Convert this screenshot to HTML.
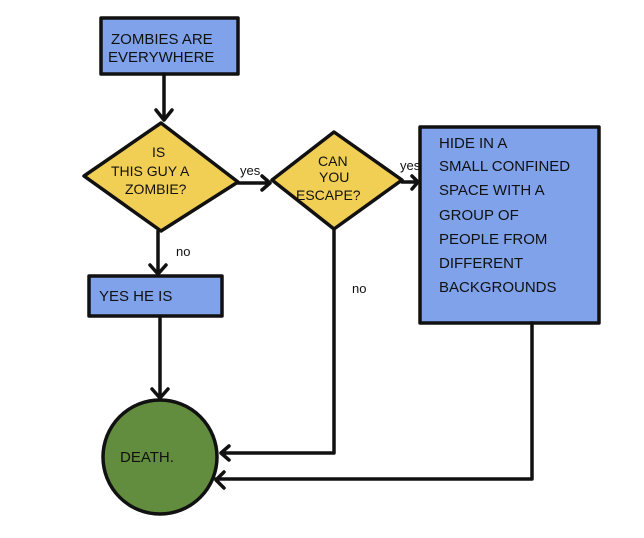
<!DOCTYPE html>
<html><head><style>
body{margin:0;background:#fff;}
svg text{font-family:"Liberation Sans",sans-serif;fill:#111;}
</style></head><body>
<svg width="644" height="533" viewBox="0 0 644 533" xmlns="http://www.w3.org/2000/svg">
<g stroke="#111" stroke-width="3.5" fill="none" stroke-linejoin="round" stroke-linecap="round">
<rect x="101" y="18" width="137" height="56" fill="#7fa2ea"/>
<polygon points="161,123 238,182 161,231 84,176" fill="#f1cf55"/>
<polygon points="334,132 402,180 334,229 272,180" fill="#f1cf55"/>
<rect x="420" y="127" width="179" height="196" fill="#7fa2ea"/>
<rect x="89" y="276" width="133" height="40" fill="#7fa2ea"/>
<circle cx="160" cy="457" r="57" fill="#628c3e"/>
<path d="M164 74 V120 M156 110 L164 120 L172 110"/>
<path d="M238 183 H270 M262 176 L270 183 L262 190"/>
<path d="M402 182 H418 M412 176 L418 182 L412 189"/>
<path d="M158 231 V274 M150 265 L158 274 L166 265"/>
<path d="M160 317 V398 M152 389 L160 398 L168 389"/>
<path d="M334 229 V453 H221 M229 446 L221 453 L229 460"/>
<path d="M532 323 V479 H216 M224 472 L216 480 L224 488"/>
</g>
<g font-size="15">
<text x="111" y="44">ZOMBIES ARE</text>
<text x="108" y="62">EVERYWHERE</text>
<text x="152" y="157" font-size="14">IS</text>
<text x="111" y="176" font-size="14">THIS GUY A</text>
<text x="125" y="194" font-size="14">ZOMBIE?</text>
<text x="318" y="166" font-size="14">CAN</text>
<text x="319" y="182" font-size="14">YOU</text>
<text x="296" y="200" font-size="14">ESCAPE?</text>
<text x="99" y="301">YES HE IS</text>
<text x="439" y="148">HIDE IN A</text>
<text x="439" y="171">SMALL CONFINED</text>
<text x="439" y="195">SPACE WITH A</text>
<text x="439" y="220">GROUP OF</text>
<text x="439" y="244">PEOPLE FROM</text>
<text x="439" y="268">DIFFERENT</text>
<text x="439" y="292">BACKGROUNDS</text>
<text x="120" y="462">DEATH.</text>
</g>
<g font-size="13">
<text x="240" y="175">yes</text>
<text x="400" y="170">yes</text>
<text x="176" y="256">no</text>
<text x="352" y="293">no</text>
</g>
</svg>
</body></html>
